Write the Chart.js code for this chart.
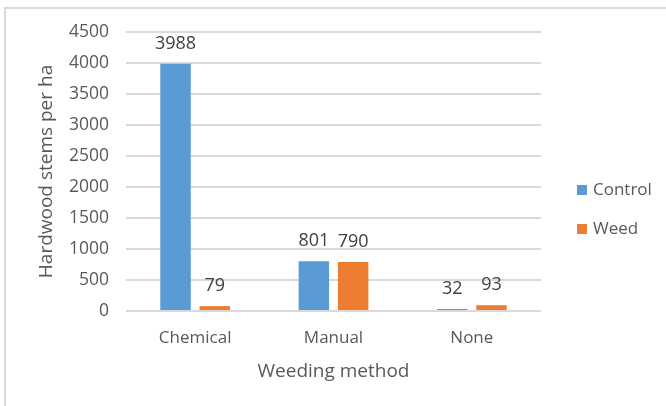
<!DOCTYPE html>
<html>
<head>
<meta charset="utf-8">
<script src="https://cdn.jsdelivr.net/npm/chart.js@4/dist/chart.umd.min.js"></script>
<style>
  html, body { margin: 0; padding: 0; background: #fff; }
  #wrap { position: relative; width: 666px; height: 406px; overflow: hidden; }
  #frame {
    position: absolute; left: 4px; top: 7px; width: 720px; height: 460px;
    border-top: 2px solid #d9d9d9; border-left: 2px solid #d9d9d9;
  }
  #c { position: absolute; left: 0; top: 0; }
</style>
</head>
<body>
<div id="wrap">
  <div id="frame"></div>
  <canvas id="c" width="666" height="406"></canvas>
</div>
<script>
// Hardwood stems per hectare by weeding method
const categories = ['Chemical', 'Manual', 'None'];
const seriesNames = ['Control', 'Weed'];
const controlValues = [3988, 801, 32];
const weedValues = [79, 790, 93];
const yTicks = [0, 500, 1000, 1500, 2000, 2500, 3000, 3500, 4000, 4500];

const FONT = '"Open Sans", "DejaVu Sans", sans-serif';
const TEXT = '#595959';
const COLORS = ['#5b9bd5', '#ed7d31'];

// value labels above each bar
const valueLabels = {
  id: 'valueLabels',
  afterDatasetsDraw(chart) {
    const ctx = chart.ctx;
    ctx.save();
    ctx.font = '18px ' + FONT;
    ctx.fillStyle = '#404040';
    ctx.textAlign = 'center';
    ctx.textBaseline = 'alphabetic';
    chart.data.datasets.forEach((ds, i) => {
      chart.getDatasetMeta(i).data.forEach((bar, j) => {
        ctx.fillText(String(ds.data[j]), bar.x, bar.y - 15);
      });
    });
    ctx.restore();
  }
};

// legend on the right, squares plus series names
const sideLegend = {
  id: 'sideLegend',
  afterDraw(chart) {
    const ctx = chart.ctx;
    ctx.save();
    ctx.font = '17px ' + FONT;
    ctx.textAlign = 'left';
    ctx.textBaseline = 'middle';
    const rows = [190, 229];
    chart.data.datasets.forEach((ds, i) => {
      const cy = rows[i];
      ctx.fillStyle = ds.backgroundColor;
      ctx.fillRect(577, cy - 5, 10, 10);
      ctx.fillStyle = TEXT;
      ctx.fillText(ds.label, 593, cy);
    });
    ctx.restore();
  }
};

new Chart(document.getElementById('c'), {
  type: 'bar',
  data: {
    labels: categories,
    datasets: [
      { label: seriesNames[0], data: controlValues, backgroundColor: COLORS[0] },
      { label: seriesNames[1], data: weedValues, backgroundColor: COLORS[1] }
    ]
  },
  options: {
    responsive: false,
    animation: false,
    devicePixelRatio: 1,
    layout: { padding: { top: 32, right: 125, bottom: 0, left: 0 } },
    datasets: { bar: { categoryPercentage: 0.568, barPercentage: 0.776 } },
    plugins: {
      legend: { display: false },
      tooltip: { enabled: false }
    },
    scales: {
      x: {
        grid: { display: false },
        border: { display: false },
        ticks: { color: TEXT, font: { family: FONT, size: 17 }, padding: 9 },
        title: {
          display: true, text: 'Weeding method', color: TEXT,
          font: { family: FONT, size: 19 }, padding: { top: 0, bottom: 23 }
        },
        afterFit(scale) { scale.height = 95; }
      },
      y: {
        min: 0, max: 4500,
        afterBuildTicks(scale) { scale.ticks = yTicks.map(v => ({ value: v })); },
        grid: { color: '#d9d9d9', lineWidth: 2, drawTicks: false },
        border: { display: false },
        ticks: {
          color: TEXT, font: { family: FONT, size: 17.5 }, padding: 17,
          callback: (v) => String(v)
        },
        title: {
          display: true, text: 'Hardwood stems per ha', color: TEXT,
          font: { family: FONT, size: 19 }, padding: { top: 35.6, bottom: 0 }
        },
        afterFit(scale) { scale.width = 126; }
      }
    }
  },
  plugins: [valueLabels, sideLegend]
});
</script>
</body>
</html>
